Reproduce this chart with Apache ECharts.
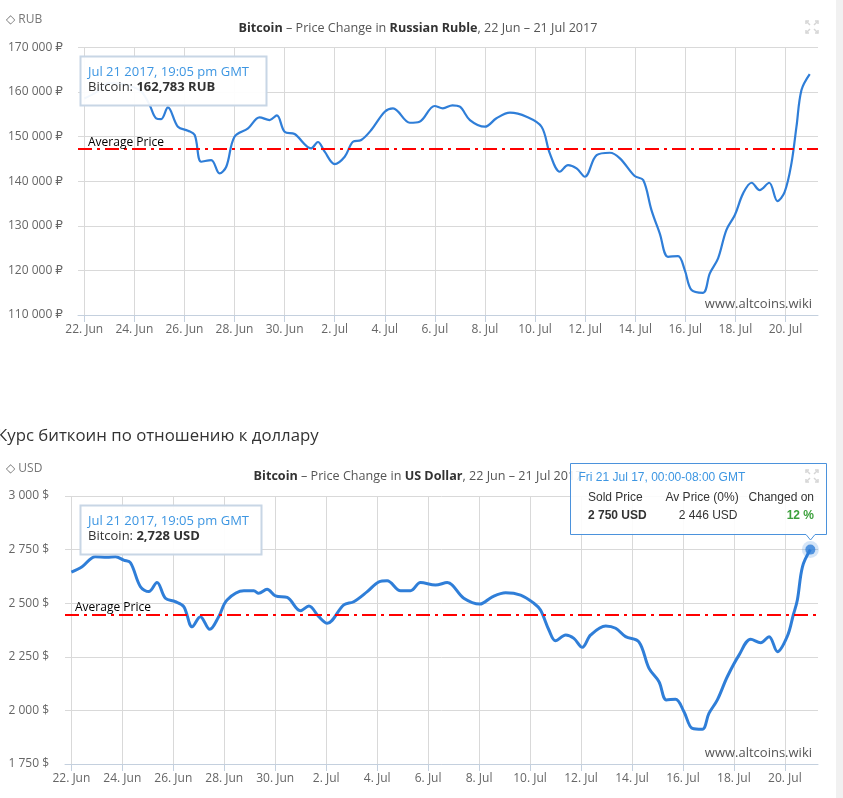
<!DOCTYPE html>
<html><head><meta charset="utf-8">
<script src="https://cdn.jsdelivr.net/npm/echarts@6/dist/echarts.min.js"></script>
<style>html,body{margin:0;padding:0;background:#fff;overflow:hidden}#c{width:843px;height:798px}</style>
</head><body><div id="c"></div>
<script>
// x values are days since 22 Jun 2017 00:00
const xTickDays = [0,2,4,6,8,10,12,14,16,18,20,22,24,26,28];
const xTickLabels = ['22. Jun','24. Jun','26. Jun','28. Jun','30. Jun','2. Jul','4. Jul','6. Jul','8. Jul','10. Jul','12. Jul','14. Jul','16. Jul','18. Jul','20. Jul'];

const rubDays = [0,0.5,1.0,1.5,2.0,2.3,2.61,2.87,3.07,3.34,3.74,4.14,4.41,4.67,5.07,5.40,5.67,6.00,6.54,7.00,7.40,7.69,8.00,8.40,9.06,9.33,9.6,10.0,10.4,10.73,11.06,11.46,12.0,12.33,13.0,13.39,13.99,14.32,14.7,15.0,15.4,16.0,16.46,17.0,17.66,18.26,18.59,18.99,19.32,19.66,19.99,20.46,20.99,21.39,21.98,22.32,22.65,22.98,23.31,23.71,23.98,24.25,24.71,24.98,25.31,25.64,25.98,26.31,26.65,26.97,27.35,27.68,27.97,28.24,28.44,28.64,28.97];
const rubValues = [158500,160000,162000,161800,161000,160000,157060,154080,153920,156550,152200,151300,150340,144350,144730,141750,143230,149960,151840,154300,153700,154750,151080,150560,147350,148770,146600,143830,145470,148830,149220,151460,155560,156320,153090,153320,156840,156320,157000,156680,153700,152200,154080,155340,154440,152200,146230,142110,143610,142870,140990,145850,146370,145110,141140,140250,133520,128300,123050,123200,120070,115590,114980,119330,122690,129040,132400,137260,139640,138000,139640,135540,137620,143990,152200,160430,164010];
const rubAverage = 147200;

const usdDays = [0,0.42,0.94,1.40,1.73,2.05,2.32,2.71,3.04,3.36,3.69,4.08,4.41,4.74,5.06,5.43,5.78,6.11,6.77,7.16,7.35,7.68,8.01,8.47,8.99,9.32,9.71,10.04,10.69,11.08,11.61,12.07,12.39,12.92,13.31,13.7,14.29,14.75,15.40,16.03,16.52,17.04,17.63,18.15,18.41,18.74,19.0,19.40,19.72,20.05,20.38,20.97,21.36,21.75,22.27,22.67,23.06,23.35,23.71,24.04,24.37,24.76,25.02,25.35,25.74,26.20,26.66,27.05,27.38,27.71,28.10,28.33,28.49,28.69,29.0];
const usdValues = [2645,2670,2717,2714,2717,2701,2689,2577,2554,2596,2523,2507,2484,2390,2437,2378,2437,2515,2558,2558,2546,2565,2534,2527,2465,2487,2437,2406,2492,2507,2554,2600,2605,2558,2558,2596,2585,2596,2523,2496,2530,2549,2538,2500,2468,2375,2325,2352,2336,2294,2352,2394,2383,2344,2320,2196,2134,2049,2052,1994,1916,1912,1986,2049,2157,2258,2332,2316,2344,2274,2347,2445,2515,2670,2750];
const usdAverage = 2446;

const zip = (xs, ys) => xs.map((x, i) => [x, ys[i]]);
const thousands = v => String(v).replace(/\B(?=(\d{3})+(?!\d))/g, ' ');
const lastUsd = [usdDays[usdDays.length - 1], usdValues[usdValues.length - 1]];

const FONT = '"Open Sans", "DejaVu Sans", sans-serif';
const BLUE = '#2f7ed8';

function xAxisCfg(gridIndex) {
  return {
    type: 'value', gridIndex, min: -0.25, max: 29.3,
    axisLine: { show: true, lineStyle: { color: '#c4d0de', width: 1 } },
    axisTick: { show: true, length: 7, customValues: xTickDays, lineStyle: { color: '#c4d0de' } },
    axisLabel: { customValues: xTickDays, margin: 9, color: '#666', fontSize: 12, fontFamily: FONT,
      formatter: v => xTickLabels[xTickDays.indexOf(Math.round(v))] || '' },
    splitLine: { show: true, lineStyle: { color: '#d9d9d9', width: 1 } }
  };
}
function yAxisCfg(gridIndex, min, max, interval, unit, margin) {
  return {
    type: 'value', gridIndex, min, max, interval,
    axisLine: { show: false }, axisTick: { show: false },
    axisLabel: { margin, color: '#666', fontSize: 12, fontFamily: FONT, formatter: v => thousands(v) + ' ' + unit },
    splitLine: { show: true, lineStyle: { color: '#d9d9d9', width: 1 } }
  };
}
function avgLine(value, dist) {
  return {
    silent: true, symbol: 'none',
    lineStyle: { color: '#ff0000', width: 2.2, type: [14, 5, 3, 5] },
    label: { show: true, formatter: 'Average Price', position: 'insideStartTop', distance: dist,
      color: '#000', fontSize: 12, fontFamily: FONT },
    data: [{ yAxis: value }]
  };
}

const chart = echarts.init(document.getElementById('c'), null, { renderer: 'canvas' });
const tipFont13 = '13px "Open Sans", "DejaVu Sans", sans-serif';
const tipFont12 = '12px "Liberation Sans", Arial, sans-serif';
const boldTip12 = 'bold 12px "Liberation Sans", Arial, sans-serif';

function smallTip(x, y, w, h, date, label, value) {
  return [
    { type: 'rect', z: 100, shape: { x, y, width: w, height: h },
      style: { fill: 'rgba(255,255,255,0.94)', stroke: '#c8d6e5', lineWidth: 2 } },
    { type: 'text', z: 101, style: { text: date, x: x + 7.5, y: y + 15.5, font: tipFont13, fill: '#3d96e2',
      textVerticalAlign: 'middle', verticalAlign: 'middle' } },
    { type: 'text', z: 101, style: { text: '{a|' + label + ' }{b|' + value + '}', x: x + 7.5, y: y + 31,
      textVerticalAlign: 'middle', verticalAlign: 'middle',
      rich: { a: { font: tipFont13, fill: '#333', color: '#333' }, b: { font: 'bold ' + tipFont13, fill: '#333', color: '#333' } } } }
  ];
}

function expandIcon(cx, cy, z) {
  const c = '#d6d6d6', d = 6, a = 3;
  const corner = (sx, sy) => ({ type: 'polyline', z, shape: { points: [
      [cx + sx * (d - a), cy + sy * d], [cx + sx * d, cy + sy * d], [cx + sx * d, cy + sy * (d - a)]] },
    style: { stroke: c, lineWidth: 1.5, fill: null } });
  const diag = (sx, sy) => ({ type: 'line', z, shape: { x1: cx + sx * 2, y1: cy + sy * 2, x2: cx + sx * d, y2: cy + sy * d },
    style: { stroke: c, lineWidth: 1.5 } });
  return [corner(-1,-1), corner(1,-1), corner(-1,1), corner(1,1), diag(-1,-1), diag(1,-1), diag(-1,1), diag(1,1)];
}

const graphics = [
  { type: 'rect', shape: { x: 836, y: 0, width: 7, height: 798 }, style: { fill: '#f1f1f1' }, z: 0 },
  ...expandIcon(812, 27, 2),
  ...expandIcon(812, 476, 102),
  { type: 'text', style: { text: '◇ RUB', x: 6, y: 20, font: '12px ' + FONT, fill: '#777', textVerticalAlign: 'middle', verticalAlign: 'middle' } },
  { type: 'text', style: { text: '◇ USD', x: 6, y: 469, font: '12px ' + FONT, fill: '#777', textVerticalAlign: 'middle', verticalAlign: 'middle' } },
  { type: 'text', style: { text: 'Курс биткоин по отношению к доллару', x: -3, y: 436, font: '16.8px ' + FONT, fill: '#333', textVerticalAlign: 'middle', verticalAlign: 'middle' } },
  { type: 'text', z: 5, style: { text: 'www.altcoins.wiki', x: 812, y: 304, font: '13px ' + FONT, fill: '#555', textAlign: 'right', align: 'right', textVerticalAlign: 'middle', verticalAlign: 'middle' } },
  { type: 'text', z: 5, style: { text: 'www.altcoins.wiki', x: 812, y: 753, font: '13px ' + FONT, fill: '#555', textAlign: 'right', align: 'right', textVerticalAlign: 'middle', verticalAlign: 'middle' } },
  ...smallTip(80.5, 56.5, 186, 49, 'Jul 21 2017, 19:05 pm GMT', 'Bitcoin:', '162,783 RUB'),
  ...smallTip(80.5, 505.5, 181, 49, 'Jul 21 2017, 19:05 pm GMT', 'Bitcoin:', '2,728 USD'),
  { type: 'polygon', z: 100, shape: { points: [[570.5,463.5],[826.5,463.5],[826.5,534.5],[815,534.5],[810.5,540],[806,534.5],[570.5,534.5]] },
    style: { fill: 'rgba(255,255,255,0.88)', stroke: '#4b92dc', lineWidth: 1 } },
  { type: 'text', z: 101, style: { text: 'Fri 21 Jul 17, 00:00-08:00 GMT', x: 578.5, y: 477.5, font: tipFont12, fill: '#3d96e2', textVerticalAlign: 'middle', verticalAlign: 'middle' } },
  { type: 'text', z: 101, style: { text: 'Sold Price', x: 588, y: 497.5, font: tipFont12, fill: '#333', textVerticalAlign: 'middle', verticalAlign: 'middle' } },
  { type: 'text', z: 101, style: { text: 'Av Price (0%)', x: 665.5, y: 497.5, font: tipFont12, fill: '#333', textVerticalAlign: 'middle', verticalAlign: 'middle' } },
  { type: 'text', z: 101, style: { text: 'Changed on', x: 814, y: 497.5, font: tipFont12, fill: '#333', textAlign: 'right', align: 'right', textVerticalAlign: 'middle', verticalAlign: 'middle' } },
  { type: 'text', z: 101, style: { text: '2 750 USD', x: 588, y: 516, font: boldTip12, fill: '#333', textVerticalAlign: 'middle', verticalAlign: 'middle' } },
  { type: 'text', z: 101, style: { text: '2 446 USD', x: 737.5, y: 516, font: tipFont12, fill: '#333', textAlign: 'right', align: 'right', textVerticalAlign: 'middle', verticalAlign: 'middle' } },
  { type: 'text', z: 101, style: { text: '12 %', x: 814, y: 516, font: boldTip12, fill: '#3ca03c', textAlign: 'right', align: 'right', textVerticalAlign: 'middle', verticalAlign: 'middle' } }
];

function titleCfg(top, currency) {
  return {
    text: '{b|Bitcoin} – Price Change in {b|' + currency + '}, 22 Jun – 21 Jul 2017',
    left: 413, top, textAlign: 'center',
    textStyle: { fontSize: 12.6, fontFamily: FONT, color: '#555', fontWeight: 'normal',
      rich: { b: { fontSize: 12.6, fontFamily: FONT, color: '#333', fontWeight: 'bold' } } }
  };
}

chart.setOption({
  animation: false,
  backgroundColor: '#fff',
  title: [titleCfg(17, 'Russian Ruble'), titleCfg(465, 'US Dollar')],
  grid: [
    { left: 78, top: 47.3, width: 740, height: 267.7, containLabel: false },
    { left: 65, top: 496, width: 753, height: 268, containLabel: false }
  ],
  xAxis: [xAxisCfg(0), xAxisCfg(1)],
  yAxis: [yAxisCfg(0, 110000, 170000, 10000, '₽', 15), yAxisCfg(1, 1750, 3000, 250, '$', 16)],
  graphic: graphics,
  series: [
    { type: 'line', xAxisIndex: 0, yAxisIndex: 0, data: zip(rubDays, rubValues), smooth: 0.35,
      showSymbol: false, lineStyle: { color: BLUE, width: 2.2 }, itemStyle: { color: BLUE },
      markLine: avgLine(rubAverage, [10, 0]) },
    { type: 'line', xAxisIndex: 1, yAxisIndex: 1, data: zip(usdDays, usdValues), smooth: 0.35,
      showSymbol: false, lineStyle: { color: BLUE, width: 3 }, itemStyle: { color: BLUE },
      markLine: avgLine(usdAverage, [10, 1]) },
    { type: 'scatter', xAxisIndex: 1, yAxisIndex: 1, data: [lastUsd], symbolSize: 17, silent: true,
      itemStyle: { color: 'rgba(47,126,216,0.25)' }, z: 3 },
    { type: 'scatter', xAxisIndex: 1, yAxisIndex: 1, data: [lastUsd], symbolSize: 10, silent: true,
      itemStyle: { color: BLUE }, z: 4 }
  ]
});
</script></body></html>
